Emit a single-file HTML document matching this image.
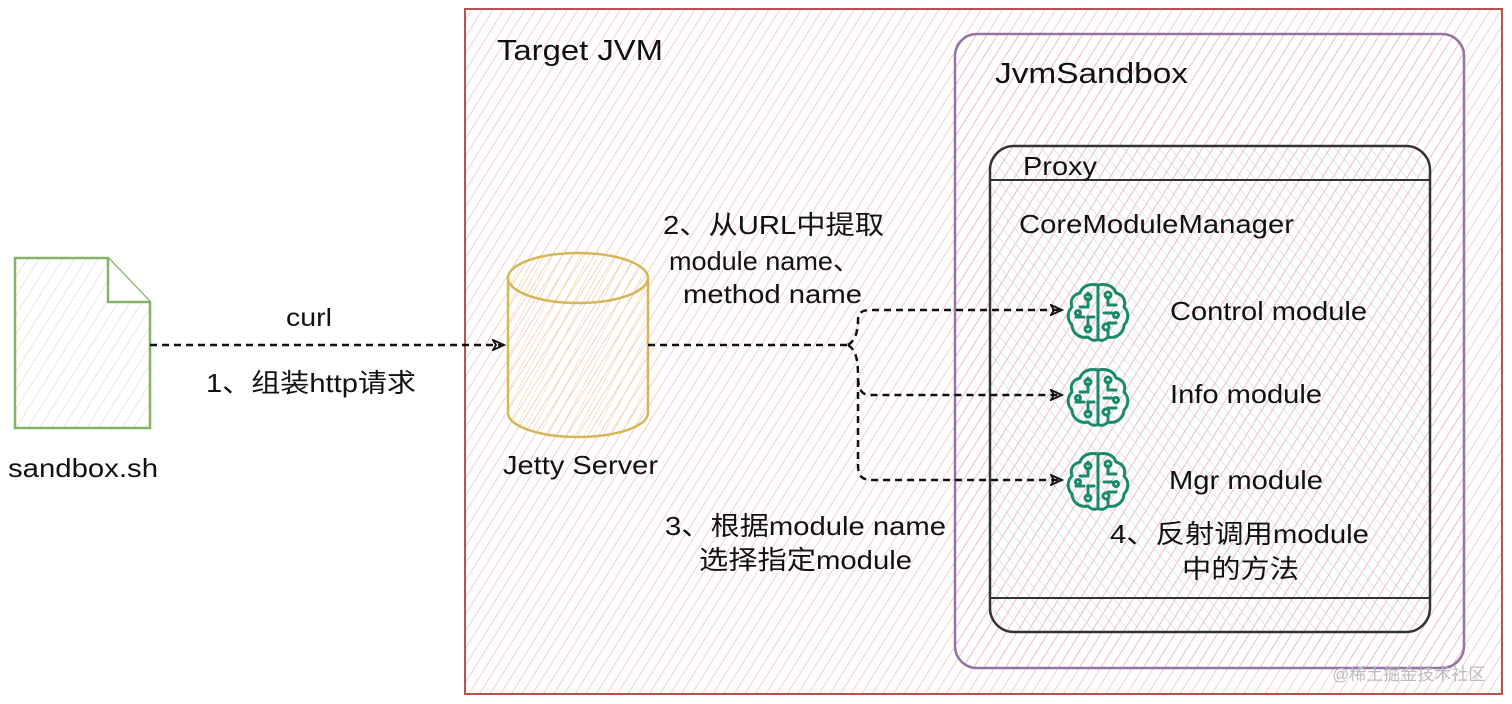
<!DOCTYPE html>
<html><head><meta charset="utf-8"><style>
html,body{margin:0;padding:0;background:#fff;width:1512px;height:704px;overflow:hidden}
svg text{font-family:"Liberation Sans","Noto Sans CJK SC",sans-serif;fill:#111}
</style></head><body>
<svg width="1512" height="704" viewBox="0 0 1512 704" xmlns="http://www.w3.org/2000/svg">
<defs>
<pattern id="red" width="9" height="9" patternUnits="userSpaceOnUse" patternTransform="rotate(32)">
<line x1="0" y1="0" x2="0" y2="9" stroke="#f0b4b6" stroke-width="1.3"/></pattern>
<pattern id="blue" width="9" height="9" patternUnits="userSpaceOnUse" patternTransform="rotate(-40)">
<line x1="0" y1="0" x2="0" y2="9" stroke="#c4d8ee" stroke-width="1.2"/></pattern>
<pattern id="green" width="10" height="10" patternUnits="userSpaceOnUse" patternTransform="rotate(32)">
<line x1="0" y1="0" x2="0" y2="10" stroke="#cfe3c4" stroke-width="1.3"/></pattern>
<pattern id="yellow" width="8" height="8" patternUnits="userSpaceOnUse" patternTransform="rotate(28)">
<line x1="0" y1="0" x2="0" y2="8" stroke="#f1d99a" stroke-width="1.3"/></pattern>
<marker id="ar" markerWidth="14" markerHeight="12" refX="12" refY="6" orient="auto" markerUnits="userSpaceOnUse">
<path d="M1,1 L12,6 L1,11 L4,6 Z" fill="none" stroke="#111" stroke-width="1.8"/></marker>
<g id="brain" fill="none" stroke="#1a8a6a" stroke-width="3" stroke-linecap="round">
<path d="M32,2 L32,56 M32,2 C22,0 16,4 14,10 C6,12 4,18 6,24 C0,30 2,38 6,42 C6,50 14,56 22,54 C26,58 30,58 32,56"/>
<path d="M32,2 C42,0 48,4 50,10 C58,12 60,18 58,24 C64,30 62,38 58,42 C58,50 50,56 42,54 C38,58 34,58 32,56"/>
<path d="M14,24 L22,24 L22,16 M10,34 L18,34 M22,44 L22,34 L28,34 M22,10 L22,12"/>
<path d="M42,14 L42,22 L50,22 M38,30 L46,30 M42,40 L50,40 M42,48 L42,52"/>
<circle cx="22" cy="14" r="3"/><circle cx="12" cy="30" r="2.5"/><circle cx="22" cy="46" r="3"/>
<circle cx="42" cy="12" r="3"/><circle cx="50" cy="32" r="2.5"/><circle cx="40" cy="44" r="3"/>
</g>
</defs>

<!-- Target JVM -->
<rect x="465" y="9" width="1037" height="685" fill="url(#red)" stroke="#b85450" stroke-width="2"/>
<text x="497" y="60" font-size="29" textLength="166" lengthAdjust="spacingAndGlyphs">Target JVM</text>

<!-- JvmSandbox -->
<rect x="955" y="34" width="509" height="634" rx="22" fill="url(#red)" stroke="#9673a6" stroke-width="2.5"/>
<text x="995" y="83" font-size="29" textLength="193" lengthAdjust="spacingAndGlyphs">JvmSandbox</text>

<!-- Proxy -->
<rect x="990" y="146" width="440" height="486" rx="24" fill="url(#blue)" stroke="#333" stroke-width="2.5"/>
<line x1="990" y1="180" x2="1430" y2="180" stroke="#333" stroke-width="2"/>
<line x1="990" y1="598" x2="1430" y2="598" stroke="#333" stroke-width="2"/>
<text x="1023" y="175" font-size="26" textLength="74" lengthAdjust="spacingAndGlyphs">Proxy</text>
<text x="1019" y="233" font-size="26" textLength="275" lengthAdjust="spacingAndGlyphs">CoreModuleManager</text>

<!-- sandbox.sh doc -->
<path d="M15,258 L108,258 L150,302 L150,428 L15,428 Z" fill="url(#green)" stroke="#82b366" stroke-width="2.5"/>
<path d="M108,258 L108,302 L150,302" fill="#fff" stroke="#82b366" stroke-width="2.5"/>
<text x="8" y="477" font-size="26" textLength="150" lengthAdjust="spacingAndGlyphs">sandbox.sh</text>

<!-- Jetty cylinder -->
<path d="M508,278 L508,413 A70,24 0 0 0 648,413 L648,278" fill="url(#yellow)" stroke="#d6b656" stroke-width="2.5"/>
<ellipse cx="578" cy="278" rx="70" ry="25" fill="url(#yellow)" stroke="#d6b656" stroke-width="2.5"/>
<text x="503" y="474" font-size="26" textLength="155" lengthAdjust="spacingAndGlyphs">Jetty Server</text>

<!-- arrows -->
<g fill="none" stroke="#111" stroke-width="2.5" stroke-dasharray="7,5">
<line x1="150" y1="345" x2="504" y2="345" marker-end="url(#ar)"/>
<path d="M648,345 L848,345"/>
<path d="M848,345 C856,340 858,330 858,320 C858,313 862,310 870,310 L1062,310" marker-end="url(#ar)"/>
<path d="M848,345 C856,350 858,360 858,375 C858,390 862,395 870,395 L1062,395" marker-end="url(#ar)"/>
<path d="M858,380 L858,465 C858,476 862,480 872,480 L1062,480" marker-end="url(#ar)"/>
</g>

<!-- labels -->
<text x="286" y="326" font-size="25" textLength="46" lengthAdjust="spacingAndGlyphs">curl</text>
<text x="206" y="392" font-size="26" textLength="210" lengthAdjust="spacingAndGlyphs">1、组装http请求</text>
<text x="663" y="234" font-size="26" textLength="221" lengthAdjust="spacingAndGlyphs">2、从URL中提取</text>
<text x="669" y="270" font-size="26" textLength="191" lengthAdjust="spacingAndGlyphs">module name、</text>
<text x="683" y="303" font-size="26" textLength="179" lengthAdjust="spacingAndGlyphs">method name</text>
<text x="665" y="535" font-size="26" textLength="281" lengthAdjust="spacingAndGlyphs">3、根据module name</text>
<text x="699" y="569" font-size="26" textLength="213" lengthAdjust="spacingAndGlyphs">选择指定module</text>
<text x="1110" y="543" font-size="26" textLength="259" lengthAdjust="spacingAndGlyphs">4、反射调用module</text>
<text x="1182" y="578" font-size="26" textLength="117" lengthAdjust="spacingAndGlyphs">中的方法</text>

<use href="#brain" x="1066" y="283"/>
<use href="#brain" x="1066" y="368"/>
<use href="#brain" x="1066" y="452"/>
<text x="1170" y="320" font-size="26" textLength="197" lengthAdjust="spacingAndGlyphs">Control module</text>
<text x="1170" y="403" font-size="26" textLength="152" lengthAdjust="spacingAndGlyphs">Info module</text>
<text x="1169" y="489" font-size="26" textLength="154" lengthAdjust="spacingAndGlyphs">Mgr module</text>

<text x="1332" y="680" font-size="17" style="fill:#bbb">@稀土掘金技术社区</text>
</svg>
</body></html>
